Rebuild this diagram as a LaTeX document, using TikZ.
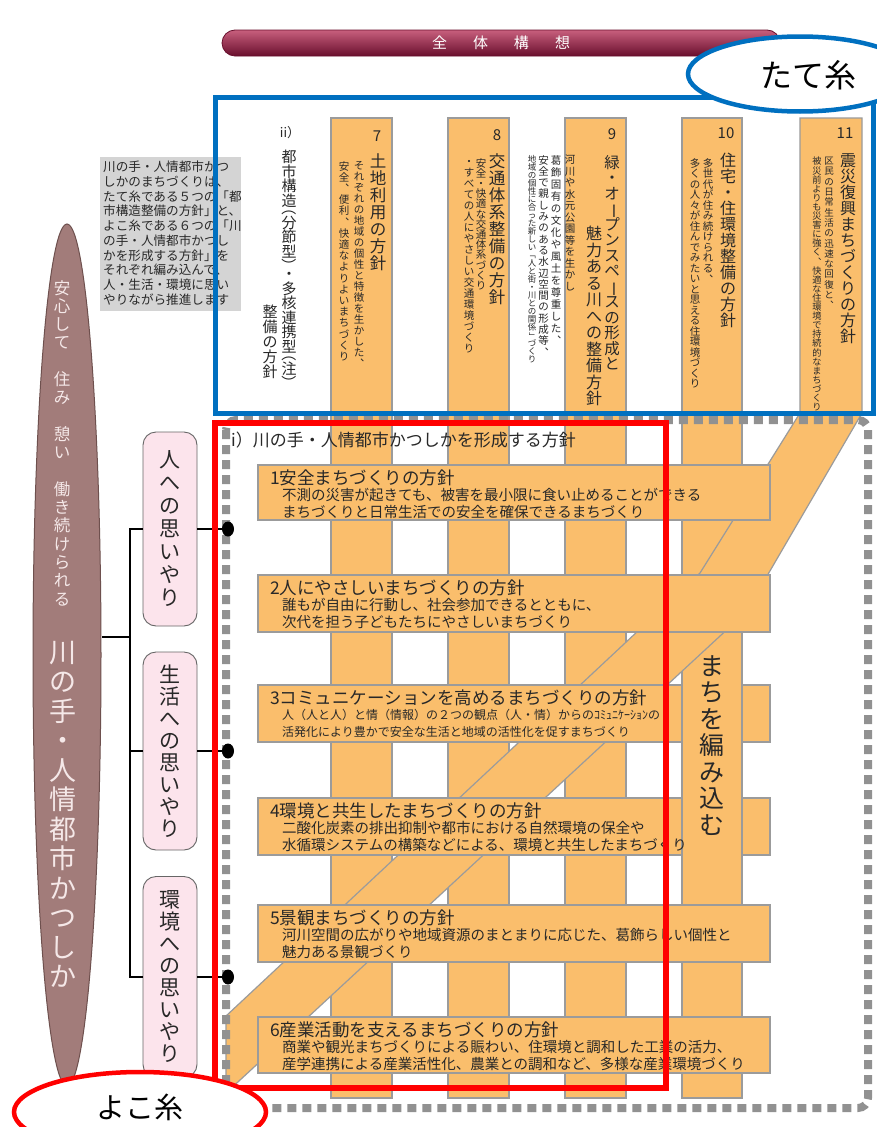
\documentclass[tikz,border=0pt]{standalone}
\usepackage{fontspec}
\setmainfont{Noto Sans CJK JP}
\usepackage{graphicx}
\usetikzlibrary{shapes.geometric}
\definecolor{org}{RGB}{250,190,108}
\definecolor{shd}{RGB}{155,155,155}
\definecolor{bblue}{RGB}{0,112,192}
\definecolor{rred}{RGB}{255,0,0}
\definecolor{ovalc}{RGB}{162,124,122}
\definecolor{ovald}{RGB}{110,80,78}
\definecolor{pinkc}{RGB}{252,228,236}
\definecolor{grayb}{RGB}{212,212,212}
\definecolor{dashg}{RGB}{145,145,145}
\definecolor{txt}{RGB}{40,40,40}
\definecolor{ban1}{RGB}{200,95,125}
\definecolor{ban2}{RGB}{150,40,75}
\definecolor{ban3}{RGB}{105,15,45}
\definecolor{ovtxt}{RGB}{245,232,232}
\makeatletter
\newcommand\vneg{}
\def\vt@negtok{\vneg}
\newcommand\vt[2]{\vbox{\baselineskip=#1\relax\lineskiplimit=-\maxdimen\lineskip=0pt\relax\@tfor\vt@c:=#2\do{\vt@item}}}
\def\vt@item{\ifx\vt@c\vt@negtok\vskip-0.45em\relax\else\hbox to 1em{\hss\vt@c\hss}\fi}
\makeatother
\newcommand\vrot[1]{\rotatebox[origin=c]{-90}{#1}}
\newcommand\vcma{\raisebox{.55em}[0pt][0pt]{\rotatebox[origin=c]{180}{、}}}
\newcommand\fsz[1]{\fontsize{#1}{#1}\selectfont}
\begin{document}
\begin{tikzpicture}[x=1pt,y=-1pt,
  vtxt/.style={anchor=north, inner sep=0pt, text=txt},
  htxt/.style={anchor=west, inner sep=0pt, text=txt},
  ctxt/.style={inner sep=0pt, text=txt},
  colr/.style={fill=org, draw=shd, line width=1.2},
  pbox/.style={draw=gray!80!black, fill=pinkc, rounded corners=13, minimum width=54, inner sep=0pt, line width=0.9, text=txt, font=\fsz{21}},
  conn/.style={draw=black, line width=2},
  dotn/.style={ellipse, fill=black, minimum width=12, minimum height=15, inner sep=0pt}]
\useasboundingbox (0,0) rectangle (876,1127);
\fill[white] (0,0) rectangle (876,1127);
% banner
\path[draw=ban3, line width=0.8, top color=ban1, middle color=ban2, bottom color=ban3, rounded corners=13] (222,30) rectangle (780,56);
\node (ban) [inner sep=0pt, text=white, font=\fsz{15}] at (501,43) {全\hspace{26pt}体\hspace{26pt}構\hspace{26pt}想};
% gray explanation box
\fill[grayb] (100,157) rectangle (241,311);
\node (gtx) [anchor=north west, inner sep=0pt, align=left, text=txt, font=\fontsize{12.6}{14.7}\selectfont] at (103,161)
 {川の手・人情都市かつ\\しかのまちづくりは、\\たて糸である５つの「都\\市構造整備の方針」と、\\よこ糸である６つの「川\\の手・人情都市かつし\\かを形成する方針」を\\それぞれ編み込んで、\\人・生活・環境に思い\\やりながら推進します};
% vertical threads
\foreach \xa/\xb in {331/392, 448/509, 565/626, 682/742}
  \filldraw[colr] (\xa,118) rectangle (\xb,1098);
\filldraw[colr] (800,118) -- (862,118) -- (862,413) -- (746,612) -- (226,1093) -- (226,1016) -- (700,573) -- (800,413) -- cycle;
% horizontal threads
\foreach \ya/\yb in {465/520, 575/632, 685/742, 798/855, 905/962, 1017/1073}
  \filldraw[colr] (258,\ya) rectangle (770,\yb);
\fill[org] (682.6,684) rectangle (741.4,856);
\draw[shd, line width=1.2] (682,684) -- (682,856) (742,684) -- (742,856);
% column texts
\node (iil) [ctxt, font=\fsz{13}] at (290,133) {ii）};
\node (iia) [vtxt, font=\fsz{15}] at (289,150) {\vt{14.5pt}{都市構造\vneg{\vrot{（}}分節型{\vrot{）}}\vneg・多核連携型\vneg{\vrot{（}}注{\vrot{）}}}};
\node (iib) [vtxt, font=\fsz{15}] at (270,305) {\vt{15pt}{整備の方針}};
\node (n7) [ctxt, font=\fsz{15}] at (377,136) {7};
\node (c7t) [vtxt, font=\fsz{16.5}] at (378,153) {\vt{17pt}{土地利用の方針}};
\node (c7a) [vtxt, font=\fsz{10.5}] at (359,161) {\vt{11pt}{それぞれの地域の個性と特徴を生かした\vcma}};
\node (c7b) [vtxt, font=\fsz{10.5}] at (344,161) {\vt{11.2pt}{安全\vcma 便利\vcma 快適なよりよいまちづくり}};
\node (n8) [ctxt, font=\fsz{15}] at (497,135) {8};
\node (c8t) [vtxt, font=\fsz{16.5}] at (497,153) {\vt{17pt}{交通体系整備の方針}};
\node (c8a) [vtxt, font=\fsz{10.5}] at (481,158) {\vt{10.2pt}{安全・快適な交通体系づくり}};
\node (c8b) [vtxt, font=\fsz{10.5}] at (469,160) {\vt{11pt}{・すべての人にやさしい交通環境づくり}};
\node (n9) [ctxt, font=\fsz{15}] at (612,134) {9};
\node (c9t) [vtxt, font=\fsz{15.5}] at (612,155) {\vt{15.5pt}{緑・オ{\vrot{ー}}プンスペ{\vrot{ー}}スの形成と}};
\node (c9u) [vtxt, font=\fsz{16}] at (594,226) {\vt{16.5pt}{魅力ある川への整備方針}};
\node (c9a) [vtxt, font=\fsz{10.5}] at (570,155) {\vt{11.5pt}{河川や水元公園等を生かし}};
\node (c9b) [vtxt, font=\fsz{10.5}] at (556,155) {\vt{12pt}{葛飾固有の文化や風土を尊重した\vcma}};
\node (c9c) [vtxt, font=\fsz{10.5}] at (543.5,155) {\vt{11.3pt}{安全で親しみのある水辺空間の形成等\vcma}};
\node (c9d) [vtxt, font=\fsz{8.5}] at (532,155) {\vt{8pt}{地域の個性に合った新しい{\vrot{「}}人と街・川との関係{\vrot{」}}づくり}};
\node (n10) [ctxt, font=\fsz{15}] at (726,133) {10};
\node (c10t) [vtxt, font=\fsz{16}] at (728,153) {\vt{16pt}{住宅・住環境整備の方針}};
\node (c10a) [vtxt, font=\fsz{10.5}] at (708,158) {\vt{10.5pt}{多世代が住み続けられる\vcma}};
\node (c10b) [vtxt, font=\fsz{10.5}] at (695,158) {\vt{10.5pt}{多くの人々が住んでみたいと思える住環境づくり}};
\node (n11) [ctxt, font=\fsz{15}] at (845,133) {11};
\node (c11t) [vtxt, font=\fsz{16}] at (848,153) {\vt{16pt}{震災復興まちづくりの方針}};
\node (c11a) [vtxt, font=\fsz{9.5}] at (829,157) {\vt{10.3pt}{区民の日常生活の迅速な回復と\vcma}};
\node (c11b) [vtxt, font=\fsz{9.2}] at (817,157) {\vt{9.1pt}{被災前よりも災害に強く\vcma 快適な住環境で持続的なまちづくり}};
% band texts
\node (hd) [htxt, font=\fsz{17}] at (231,440) {i）川の手・人情都市かつしかを形成する方針};
\node (t1) [htxt, font=\fsz{17.5}] at (270,478) {1安全まちづくりの方針};
\node (t1a) [htxt, font=\fsz{14.5}] at (282,495) {不測の災害が起きても、被害を最小限に食い止めることができる};
\node (t1b) [htxt, font=\fsz{14.5}] at (282,512) {まちづくりと日常生活での安全を確保できるまちづくり};
\node (t2) [htxt, font=\fsz{17.5}] at (270,588) {2人にやさしいまちづくりの方針};
\node (t2a) [htxt, font=\fsz{14.5}] at (282,605) {誰もが自由に行動し、社会参加できるとともに、};
\node (t2b) [htxt, font=\fsz{14.5}] at (282,622) {次代を担う子どもたちにやさしいまちづくり};
\node (t3) [htxt, font=\fsz{17.5}] at (270,698) {3コミュニケーションを高めるまちづくりの方針};
\node (t3a) [htxt, font=\fsz{12}] at (282,715) {人（人と人）と情（情報）の２つの観点（人・情）からのｺﾐｭﾆｹｰｼｮﾝの};
\node (t3b) [htxt, font=\fsz{12}] at (282,732) {活発化により豊かで安全な生活と地域の活性化を促すまちづくり};
\node (t4) [htxt, font=\fsz{17.5}] at (270,811) {4環境と共生したまちづくりの方針};
\node (t4a) [htxt, font=\fsz{14.5}] at (282,828) {二酸化炭素の排出抑制や都市における自然環境の保全や};
\node (t4b) [htxt, font=\fsz{14.5}] at (282,845) {水循環システムの構築などによる、環境と共生したまちづくり};
\node (t5) [htxt, font=\fsz{17.5}] at (270,918) {5景観まちづくりの方針};
\node (t5a) [htxt, font=\fsz{14.5}] at (282,935) {河川空間の広がりや地域資源のまとまりに応じた、葛飾らしい個性と};
\node (t5b) [htxt, font=\fsz{14.5}] at (282,952) {魅力ある景観づくり};
\node (t6) [htxt, font=\fsz{17.5}] at (270,1030) {6産業活動を支えるまちづくりの方針};
\node (t6a) [htxt, font=\fsz{14.5}] at (282,1047) {商業や観光まちづくりによる賑わい、住環境と調和した工業の活力、};
\node (t6b) [htxt, font=\fsz{14.5}] at (282,1064) {産学連携による産業活性化、農業との調和など、多様な産業環境づくり};
\node (mk) [vtxt, font=\fsz{25}] at (712,655) {\vt{26.5pt}{まちを編み込む}};
% dashed frame
\draw[dashg, line width=8, dash pattern=on 9pt off 6pt, rounded corners=10] (226,420) rectangle (868,1108);
% left oval
\node (ov) [ellipse, fill=ovalc, draw=ovald, line width=1, minimum width=68, minimum height=862, inner sep=0pt] at (67,655) {};
\node (ovs) [vtxt, text=ovtxt, font=\fsz{16.5}] at (62,280) {\vt{18.3pt}{安心して　住み　憩い　働き続けられる}};
\node (ovb) [vtxt, text=ovtxt, font=\fsz{27}] at (63,641) {\vt{29.5pt}{川の手・人情都市かつしか}};
% pink boxes
\node (b1) [pbox, minimum height=194] at (170,529) {\vt{23pt}{人への思いやり}};
\node (b2) [pbox, minimum height=198] at (170,751) {\vt{22pt}{生活への思いやり}};
\node (b3) [pbox, minimum height=201] at (170,977) {\vt{22pt}{環境への思いやり}};
% dots
\node (d1) [dotn] at (228,529) {};
\node (d2) [dotn] at (228,751) {};
\node (d3) [dotn] at (228,977) {};
% connectors
\coordinate (jn) at (130,637);
\draw[conn] (b1.west) -- (b1.west -| jn) -- (b3.west -| jn) -- (b3.west);
\draw[conn] (b2.west) -- (b2.west -| jn);
\draw[conn] (jn) -- (jn -| ov.east);
\draw[conn] (b1.east) -- (d1);
\draw[conn] (b2.east) -- (d2);
\draw[conn] (b3.east) -- (d3);
% frames
\draw[bblue, line width=5] (215,97) rectangle (873,413);
\draw[rred, line width=6] (215,423) rectangle (666,1088);
\node (tate) [ellipse, draw=bblue, line width=4.5, fill=white, minimum width=224, minimum height=75, inner sep=0pt] at (800,74) {};
\node (tatet) [inner sep=0pt, font=\fsz{32}, text=black] at (808,75) {たて糸};
\node (yoko) [ellipse, draw=rred, line width=4.5, fill=white, minimum width=252, minimum height=80, inner sep=0pt] at (140,1112) {};
\node (yokot) [inner sep=0pt, font=\fsz{29}, text=black] at (140,1107) {よこ糸};
\end{tikzpicture}
\end{document}
